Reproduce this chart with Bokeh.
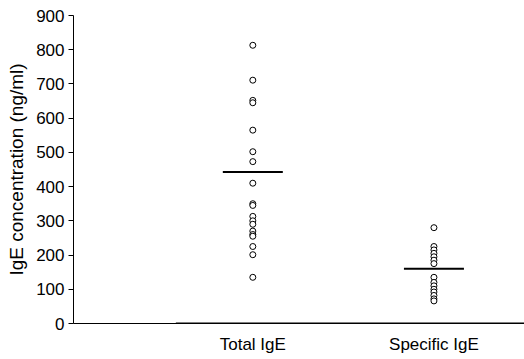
from bokeh.plotting import figure
from bokeh.embed import file_html
from bokeh.resources import INLINE
from bokeh.models import Range1d, FixedTicker

categories = ["Total IgE", "Specific IgE"]
total_ige = [813, 711, 652, 645, 565, 502, 473, 410, 350, 345, 313, 300, 290,
             270, 260, 255, 225, 201, 135]
specific_ige = [280, 225, 215, 205, 195, 185, 175, 135, 120, 110, 100, 92, 82,
                72, 66]
means = [443, 160]
y_ticks = [0, 100, 200, 300, 400, 500, 600, 700, 800, 900]

FONT = "Liberation Sans"

p = figure(width=524, height=356, output_backend="svg", toolbar_location=None,
           x_range=Range1d(0.01, 2.5), y_range=Range1d(0, 900),
           min_border_left=73, min_border_right=0, min_border_top=15,
           min_border_bottom=32)
p.outline_line_color = None
p.grid.visible = False
p.background_fill_color = "white"

xs = [1] * len(total_ige) + [2] * len(specific_ige)
ys = total_ige + specific_ige
p.scatter(xs, ys, marker="circle", size=6, fill_color="white",
          line_color="black", line_width=1)

p.scatter([1, 2], means, marker="dash", size=60, line_color="black",
          line_width=2)

# thicker portion of the baseline
p.segment(x0=[0.575], y0=[0], x1=[2.5], y1=[0], line_color="black",
          line_width=2)

p.xaxis.ticker = FixedTicker(ticks=[1, 2])
p.xaxis.major_label_overrides = {1: categories[0], 2: categories[1]}
p.xaxis.major_tick_line_color = None
p.xaxis.major_tick_out = 0
p.xaxis.major_tick_in = 0
p.xaxis.minor_tick_line_color = None
p.xaxis.major_label_standoff = 11
p.xaxis.axis_line_color = "black"
p.xaxis.axis_line_width = 1

p.yaxis.ticker = FixedTicker(ticks=y_ticks)
p.yaxis.minor_tick_line_color = None
p.yaxis.major_tick_out = 5
p.yaxis.major_tick_in = 0
p.yaxis.major_label_standoff = 4
p.yaxis.axis_label = "IgE concentration (ng/ml)"
p.yaxis.axis_label_standoff = 6
p.yaxis.axis_line_color = "black"

for ax in [p.xaxis[0], p.yaxis[0]]:
    ax.major_label_text_font = FONT
    ax.major_label_text_font_size = "17px"
    ax.major_label_text_color = "black"
    ax.axis_label_text_font = FONT
    ax.axis_label_text_font_size = "19px"
    ax.axis_label_text_font_style = "normal"
    ax.axis_label_text_color = "black"

open("out.html", "w").write(file_html(p, INLINE))
